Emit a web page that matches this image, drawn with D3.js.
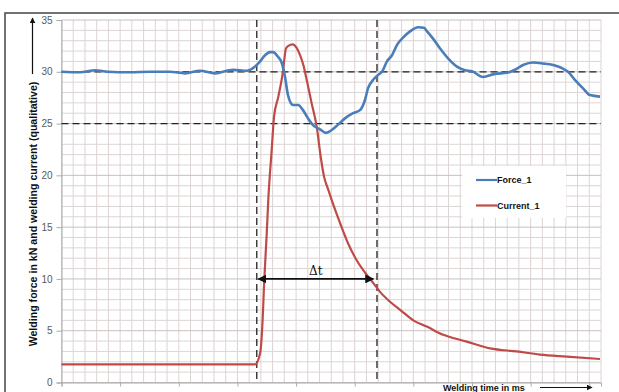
<!DOCTYPE html>
<html><head><meta charset="utf-8">
<script src="https://cdn.jsdelivr.net/npm/d3@7"></script>
<style>
body{margin:0;background:#fff;}
svg{display:block;}
</style></head>
<body>
<svg id="c" width="619" height="392"></svg>
<script>
// ---- data ----
const forceT = [0,1.58,2.86,3.96,5.84,7.55,9.25,10.53,11.81,13.09,14.62,15.82,16.5,16.93,17.35,17.78,18.03,18.46,18.8,19.06,19.31,19.74,20.17,20.59,21.02,21.45,22.04,22.56,23.07,23.58,24.17,24.86,25.45,25.88,26.13,26.56,26.99,27.33,27.75,28.18,28.61,29.12,29.72,30.4,30.9,31.17,31.68,32.28,32.96,33.72,34.41,35.0,35.94,36.96,37.99,38.67,39.35,40.2,41.06,42.08,42.76,43.19,43.79,44.47,45.06,45.92];
const forceV = [30.0,29.95,30.15,30.0,29.95,30.0,30.0,29.85,30.1,29.85,30.2,30.1,30.5,31.0,31.6,31.9,31.9,31.45,30.8,29.5,27.75,26.8,26.8,26.3,25.5,24.85,24.45,24.1,24.4,24.9,25.5,26.0,26.3,27.3,28.4,29.2,29.7,30.0,31.0,31.6,32.6,33.3,33.9,34.3,34.25,33.9,33.2,32.25,31.3,30.5,30.15,30.05,29.5,29.8,29.9,30.2,30.65,30.9,30.8,30.6,30.3,30.0,29.2,28.4,27.75,27.6];
const currentT = [0,16.5,16.93,17.12,17.29,17.5,17.63,17.92,18.12,18.49,18.86,19.14,19.34,19.71,20.05,20.34,20.62,20.91,21.33,21.76,22.1,22.38,22.75,23.04,23.75,24.45,25.17,26.02,26.59,27.16,28.01,28.95,30.0,31.14,32.55,34.55,36.54,38.81,40.8,43.08,45.92];
const currentV = [1.75,1.75,2.8,5.4,9.9,14.4,17.6,22.4,25.65,27.6,29.85,32.25,32.5,32.65,32.3,31.6,30.65,29.2,26.95,24.7,21.8,19.9,18.6,17.6,15.4,13.4,11.8,10.4,9.6,8.75,7.8,6.95,6.0,5.4,4.6,3.95,3.3,3.0,2.7,2.5,2.27];
const yTicks = [0,5,10,15,20,25,30,35];
const refLevels = [25,30];          // dashed horizontal lines
const refTimes = [16.65,26.9];      // dashed vertical lines
const deltaT = {from:16.78, to:26.59, level:10, label:"\u0394t"};
const seriesNames = ["Force_1","Current_1"];
const yLabel = "Welding force in kN and welding current (qualitative)";
const xLabel = "Welding time in ms";

// ---- layout ----
const svg = d3.select("#c");
const L=61.5, R=601, T=20, B=382.5;
const x = d3.scaleLinear().domain([0,46]).range([L,R]);
const y = d3.scaleLinear().domain([0,35]).range([B,T]);
const blue="#4a7ebb", red="#be4b48";

const defs = svg.append("defs");
defs.append("marker").attr("id","ah").attr("viewBox","0 0 10 10").attr("refX",9).attr("refY",5)
   .attr("markerWidth",5).attr("markerHeight",5).attr("orient","auto-start-reverse")
   .append("path").attr("d","M0,0L10,5L0,10z").attr("fill","#111");

// outer frame
svg.append("rect").attr("x",5).attr("y",13).attr("width",640).attr("height",400)
  .attr("fill","none").attr("stroke","#444").attr("stroke-width",1.5);

// grid
const g = svg.append("g");
g.selectAll(".vg").data(d3.range(0,47)).join("line")
  .attr("x1",d=>x(d)).attr("x2",d=>x(d)).attr("y1",T).attr("y2",B)
  .attr("stroke","#ddd4d4").attr("stroke-width",1);
g.selectAll(".hg").data(d3.range(0,36)).join("line")
  .attr("x1",L).attr("x2",R).attr("y1",d=>y(d)).attr("y2",d=>y(d))
  .attr("stroke",d=>d%5===0?"#c8c0c0":"#ddd4d4").attr("stroke-width",1);

// axes
const ya = d3.axisLeft(y).tickValues(yTicks).tickSize(5).tickPadding(4);
const yg = svg.append("g").attr("transform",`translate(${L},0)`).call(ya);
yg.select(".domain").attr("stroke","#aaa");
yg.selectAll(".tick line").attr("stroke","#aaa");
yg.selectAll(".tick text").attr("fill","#595959").style("font","10px 'Liberation Sans',Arial,sans-serif");
const xa = d3.axisBottom(x).tickValues(d3.range(0,46,5)).tickSize(4).tickFormat("");
const xg = svg.append("g").attr("transform",`translate(0,${B})`).call(xa);
xg.select(".domain").attr("stroke","#aaa");
xg.selectAll(".tick line").attr("stroke","#aaa");

// reference dashed lines
svg.selectAll(".rh").data(refLevels).join("line")
  .attr("x1",L).attr("x2",R).attr("y1",d=>y(d)).attr("y2",d=>y(d))
  .attr("stroke","#222").attr("stroke-width",1.3).attr("stroke-dasharray","7,4");
svg.selectAll(".rv").data(refTimes).join("line")
  .attr("x1",d=>x(d)).attr("x2",d=>x(d)).attr("y1",T).attr("y2",B)
  .attr("stroke","#222").attr("stroke-width",1.3).attr("stroke-dasharray","7,4");

// series
const line = d3.line().x(d=>x(d[0])).y(d=>y(d[1])).curve(d3.curveMonotoneX);
svg.append("path").datum(d3.zip(currentT,currentV)).attr("d",line)
  .attr("fill","none").attr("stroke",red).attr("stroke-width",2.2);
svg.append("path").datum(d3.zip(forceT,forceV)).attr("d",line)
  .attr("fill","none").attr("stroke",blue).attr("stroke-width",2.6);

// delta t arrow
svg.append("line").attr("x1",x(deltaT.from)).attr("x2",x(deltaT.to))
  .attr("y1",y(deltaT.level)).attr("y2",y(deltaT.level))
  .attr("stroke","#111").attr("stroke-width",1.8)
  .attr("marker-start","url(#ah)").attr("marker-end","url(#ah)");
svg.append("text").attr("x",(x(deltaT.from)+x(deltaT.to))/2).attr("y",y(deltaT.level)-4)
  .attr("text-anchor","middle").style("font","12px 'DejaVu Serif',serif").attr("fill","#111")
  .text(deltaT.label);

// legend
const lg = svg.append("g");
lg.append("rect").attr("x",462).attr("y",166).attr("width",104).attr("height",52).attr("fill","#fff");
[blue,red].forEach((c,i)=>{
  const yy = 180 + i*25.5;
  lg.append("line").attr("x1",476).attr("x2",497).attr("y1",yy).attr("y2",yy).attr("stroke",c).attr("stroke-width",2.2);
  lg.append("text").attr("x",497).attr("y",yy+3.3).style("font","bold 9px 'Liberation Sans',Arial,sans-serif")
    .attr("fill","#111").text(seriesNames[i]);
});

// y label with arrow
svg.append("text").attr("transform","translate(36.5,214) rotate(-90)")
  .attr("text-anchor","middle").style("font","bold 10.6px 'Liberation Sans',Arial,sans-serif")
  .attr("fill","#111").text(yLabel);
svg.append("line").attr("x1",32.5).attr("x2",32.5).attr("y1",74).attr("y2",18)
  .attr("stroke","#111").attr("stroke-width",1.2).attr("marker-end","url(#ah)");

// x label with arrow
svg.append("text").attr("x",443).attr("y",390.5).style("font","bold 9px 'Liberation Sans',Arial,sans-serif")
  .attr("fill","#111").text(xLabel);
svg.append("line").attr("x1",540).attr("x2",592).attr("y1",387.5).attr("y2",387.5)
  .attr("stroke","#111").attr("stroke-width",1.2).attr("marker-end","url(#ah)");
</script>
</body></html>
